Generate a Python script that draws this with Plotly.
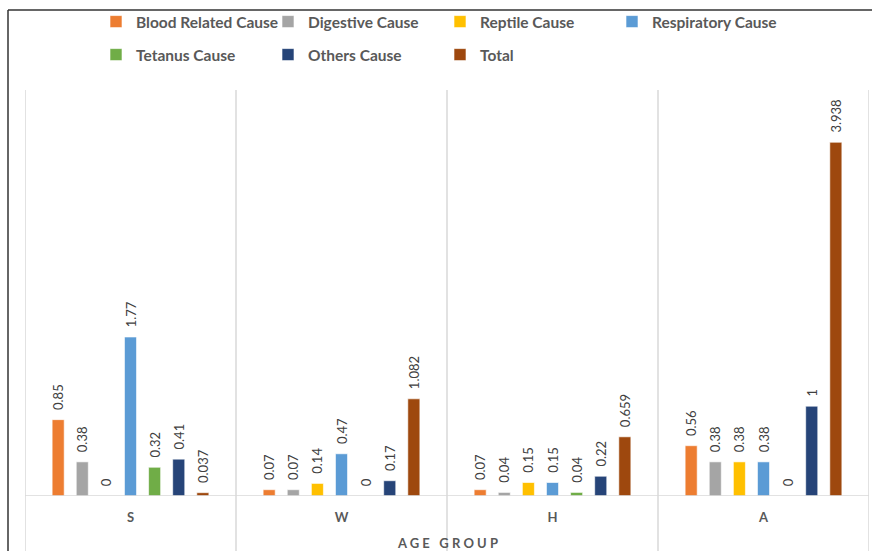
import plotly.graph_objects as go

categories = ["S", "W", "H", "A"]
series_names = ["Blood Related Cause", "Digestive Cause", "Reptile Cause", "Respiratory Cause",
                "Tetanus Cause", "Others Cause", "Total"]
blood = [0.85, 0.07, 0.07, 0.56]
digestive = [0.38, 0.07, 0.04, 0.38]
reptile = [0, 0.14, 0.15, 0.38]
respiratory = [1.77, 0.47, 0.15, 0.38]
tetanus = [0.32, 0, 0.04, 0]
others = [0.41, 0.17, 0.22, 1]
total = [0.037, 1.082, 0.659, 3.938]

series_values = [blood, digestive, reptile, respiratory, tetanus, others, total]
colors = ["#ED7D31", "#A5A5A5", "#FFC000", "#5B9BD5", "#70AD47", "#264478", "#9E480E"]

W, H = 872, 551
L, R, T, B = 25, 3, 90, 55
pw, ph = W - L - R, H - T - B

def px_x(p):
    return (p - L) / pw

def px_y(p):
    return (H - B - p) / ph

fig = go.Figure()
for i, (name, vals, col) in enumerate(zip(series_names, series_values, colors)):
    fig.add_trace(go.Bar(
        x=categories, y=vals, name=name,
        marker=dict(color=col, line=dict(color="rgba(255,255,255,0.6)", width=1)),
        text=["\u00a0\u00a0" + str(v) for v in vals], textposition="outside", textangle=-90,
        constraintext="none", cliponaxis=False,
        textfont=dict(family="Lato", size=13, color="#404040"),
        legend="legend" if i < 4 else "legend2",
    ))

shapes = []
for xb in [-0.5, 0.5, 1.5, 2.5, 3.5]:
    shapes.append(dict(type="line", xref="x", yref="paper", x0=xb, x1=xb,
                       y0=px_y(560), y1=1, layer="below",
                       line=dict(color="#D9D9D9", width=1.5)))
# baseline
shapes.append(dict(type="line", xref="x", yref="y", x0=-0.5, x1=3.5, y0=0, y1=0,
                   line=dict(color="#D9D9D9", width=1.5)))
# outer frame
shapes.append(dict(type="line", xref="paper", yref="paper", x0=px_x(8), x1=px_x(8),
                   y0=px_y(560), y1=px_y(10), line=dict(color="#333333", width=1.5)))
shapes.append(dict(type="line", xref="paper", yref="paper", x0=px_x(8), x1=px_x(880),
                   y0=px_y(10), y1=px_y(10), line=dict(color="#333333", width=1.5)))

legend_common = dict(orientation="h", entrywidth=127, entrywidthmode="pixels",
                     itemwidth=30,
                     xanchor="left", yanchor="middle", bgcolor="rgba(0,0,0,0)",
                     font=dict(family="Lato", size=15.5, color="#595959", weight="bold"),
                     itemclick=False, itemdoubleclick=False, traceorder="normal")

fig.update_layout(
    width=W, height=H,
    margin=dict(l=L, r=R, t=T, b=B, autoexpand=False),
    paper_bgcolor="white", plot_bgcolor="white",
    barmode="group", bargap=0.2, bargroupgap=0.5,
    showlegend=True,
    legend=dict(x=px_x(96), y=px_y(22), **legend_common),
    legend2=dict(x=px_x(96), y=px_y(55), **legend_common),
    xaxis=dict(range=[-0.5, 3.5], showgrid=False, zeroline=False, showline=False,
               ticks="", ticklabelstandoff=12,
               tickfont=dict(family="Lato", size=13, color="#595959", weight="bold")),
    yaxis=dict(range=[0, 4.52], visible=False, showgrid=False, zeroline=False),
    shapes=shapes,
    annotations=[dict(text="A G E   G R O U P", xref="paper", yref="paper",
                      x=px_x(447), y=px_y(543), xanchor="center", yanchor="middle",
                      showarrow=False,
                      font=dict(family="Lato", size=13, color="#595959", weight="bold"))],
)

fig.write_html("out.html")
